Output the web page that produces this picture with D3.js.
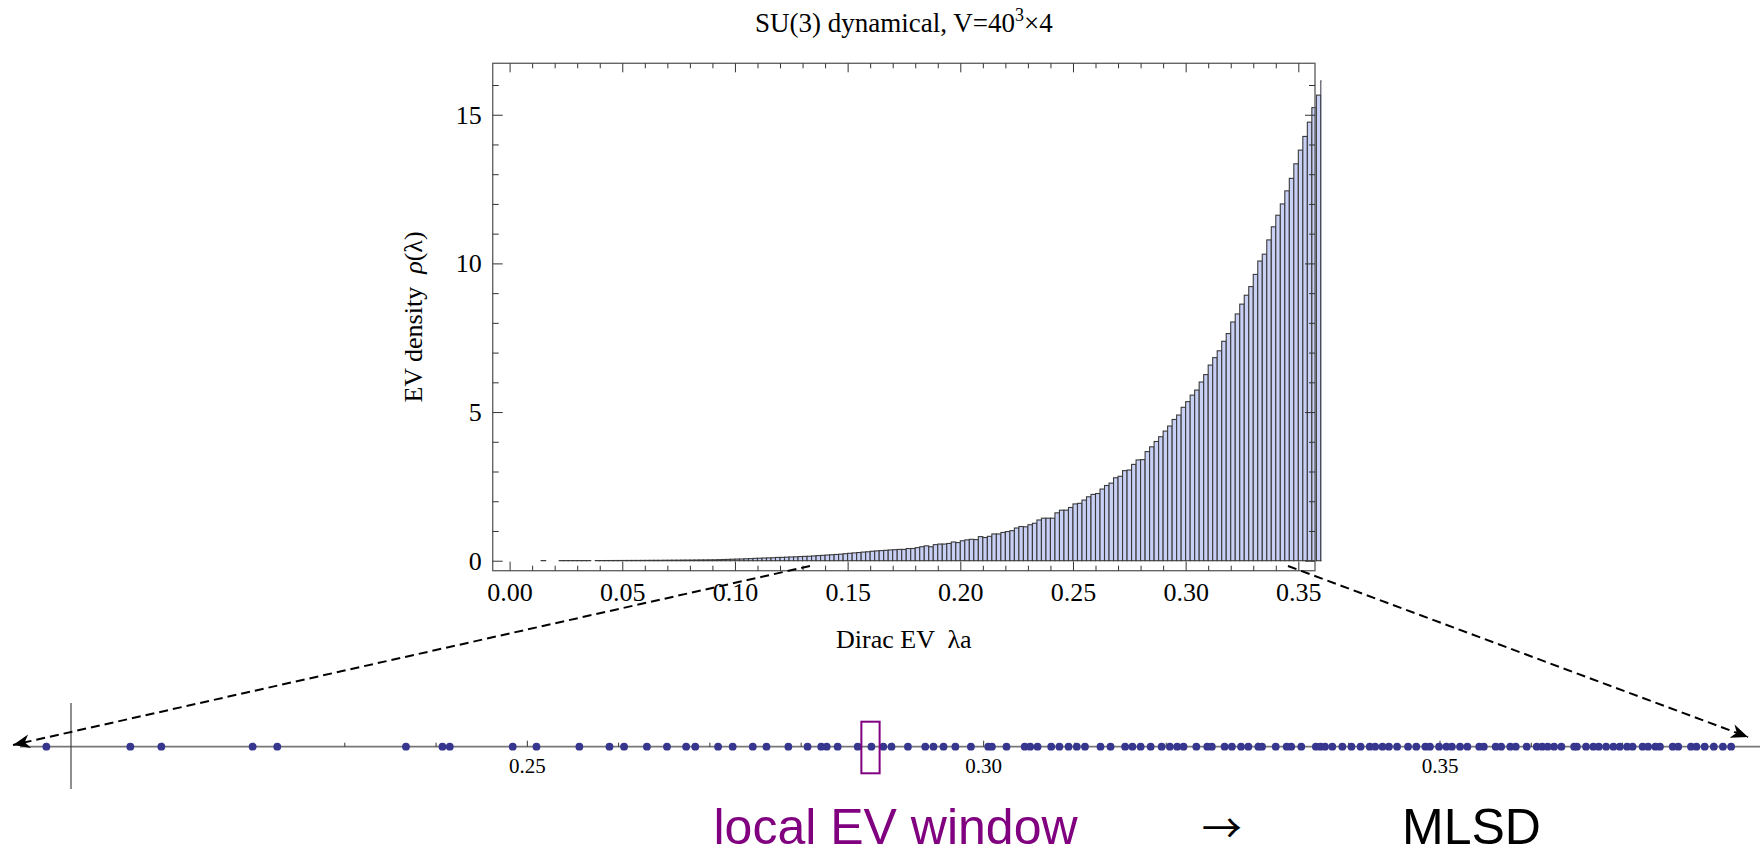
<!DOCTYPE html>
<html>
<head>
<meta charset="utf-8">
<script src="https://cdn.jsdelivr.net/npm/d3@7"></script>
<style>
  body { margin: 0; background: #fff; }
  svg { display: block; font-family: "Liberation Serif", "Times New Roman", serif; }
</style>
</head>
<body>
<div id="chart"></div>
<script>
const width = 1760, height = 855;

// histogram of the Dirac EV density, bins of 0.002 starting at lambda*a = 0
const binWidth = 0.002;
const rho = [
    0, 0, 0, 0, 0, 0, 0, 0.004, 0, 0,
    0, 0.004, 0.004, 0.004, 0.004, 0.004, 0.004, 0.004, 0, 0.005,
    0.005, 0.006, 0.006, 0.007, 0.007, 0.008, 0.008, 0.009, 0.009, 0.010,
    0.011, 0.012, 0.013, 0.013, 0.015, 0.016, 0.017, 0.018, 0.020, 0.021,
    0.022, 0.024, 0.026, 0.027, 0.029, 0.030, 0.035, 0.040, 0.044, 0.050,
    0.055, 0.058, 0.065, 0.070, 0.080, 0.083, 0.090, 0.095, 0.100, 0.110,
    0.112, 0.120, 0.126, 0.130, 0.140, 0.146, 0.150, 0.160, 0.172, 0.180,
    0.190, 0.200, 0.210, 0.220, 0.236, 0.250, 0.262, 0.275, 0.290, 0.300,
    0.318, 0.330, 0.340, 0.350, 0.362, 0.370, 0.380, 0.380, 0.410, 0.410,
    0.440, 0.470, 0.500, 0.470, 0.540, 0.560, 0.560, 0.580, 0.630, 0.610,
    0.670, 0.700, 0.720, 0.710, 0.810, 0.780, 0.820, 0.900, 0.900, 0.950,
    0.980, 1.010, 1.100, 1.150, 1.140, 1.210, 1.260, 1.370, 1.430, 1.430,
    1.430, 1.610, 1.700, 1.700, 1.790, 1.910, 1.930, 2.040, 2.150, 2.230,
    2.260, 2.410, 2.530, 2.610, 2.790, 2.840, 3.030, 3.050, 3.240, 3.390,
    3.400, 3.670, 3.830, 4.010, 4.170, 4.360, 4.530, 4.750, 4.900, 5.160,
    5.350, 5.570, 5.740, 6.010, 6.260, 6.580, 6.830, 7.060, 7.380, 7.640,
    8.030, 8.300, 8.630, 8.930, 9.220, 9.630, 10.08, 10.31, 10.79, 11.23,
    11.62, 12.00, 12.44, 12.86, 13.35, 13.81, 14.27, 14.75, 15.24, 15.66,
    16.14
];

// individual eigenvalues on the number line below
const evs = [
    0.1973, 0.2065, 0.2099, 0.2199, 0.2226, 0.2367, 0.2407, 0.2415, 0.2484, 0.2510,
    0.2557, 0.2590, 0.2606, 0.2631, 0.2653, 0.2674, 0.2684, 0.2709, 0.2725, 0.2747,
    0.2762, 0.2786, 0.2807, 0.2822, 0.2828, 0.2840, 0.2862, 0.2877, 0.2890, 0.2899,
    0.2917, 0.2936, 0.2945, 0.2956, 0.2969, 0.2986, 0.3005, 0.3009, 0.3025, 0.3045,
    0.3051, 0.3059, 0.3074, 0.3083, 0.3093, 0.3102, 0.3111, 0.3128, 0.3139, 0.3155,
    0.3163, 0.3172, 0.3183, 0.3195, 0.3204, 0.3212, 0.3219, 0.3233, 0.3245, 0.3250,
    0.3264, 0.3272, 0.3282, 0.3290, 0.3301, 0.3305, 0.3320, 0.3332, 0.3337, 0.3348,
    0.3364, 0.3369, 0.3374, 0.3382, 0.3393, 0.3403, 0.3413, 0.3423, 0.3429, 0.3437,
    0.3444, 0.3453, 0.3465, 0.3474, 0.3484, 0.3489, 0.3499, 0.3507, 0.3513, 0.3522,
    0.3530, 0.3543, 0.3548, 0.3561, 0.3567, 0.3577, 0.3583, 0.3595, 0.3606, 0.3612,
    0.3618, 0.3625, 0.3633, 0.3647, 0.3650, 0.3660, 0.3668, 0.3674, 0.3682, 0.3690,
    0.3697, 0.3705, 0.3711, 0.3722, 0.3728, 0.3736, 0.3741, 0.3755, 0.3761, 0.3775,
    0.3781, 0.3790, 0.3800, 0.3810, 0.3819
];

const histXTicks = [0, 0.05, 0.10, 0.15, 0.20, 0.25, 0.30, 0.35];
const histYTicks = [0, 5, 10, 15];
const lineTicks = [0.25, 0.30, 0.35];
const windowRange = [0.2866, 0.2886];

const serif = '"Liberation Serif", "Times New Roman", serif';
const sans = '"Liberation Sans", Arial, Helvetica, sans-serif';

const svg = d3.select("#chart")
    .append("svg")
    .attr("width", width)
    .attr("height", height);

// ---------- histogram ----------
let x = d3.scaleLinear().domain([-0.0075, 0.3574]).range([492.7, 1315]);
let y = d3.scaleLinear().domain([-0.336, 16.73]).range([570.7, 63.3]);

// bars stop at 0.36, the next one only shows its left edge
svg.append("clipPath").attr("id", "barclip")
    .append("rect")
    .attr("x", 0).attr("y", 0)
    .attr("width", x(0.36) + 0.7).attr("height", height);

let bins = rho.map((v, i) => ({ x0: i * binWidth, v: v })).filter(d => d.v > 0);

svg.append("g")
    .attr("clip-path", "url(#barclip)")
    .selectAll("rect")
    .data(bins)
    .enter()
    .append("rect")
    .attr("x", d => x(d.x0))
    .attr("y", d => y(d.v))
    .attr("width", d => x(d.x0 + binWidth) - x(d.x0))
    .attr("height", d => y(0) - y(d.v))
    .attr("fill", "#c8d0f6")
    .attr("stroke", "#3a3a3a")
    .attr("stroke-width", 1.1);

// frame
svg.append("rect")
    .attr("x", x.range()[0]).attr("y", y.range()[1])
    .attr("width", x.range()[1] - x.range()[0])
    .attr("height", y.range()[0] - y.range()[1])
    .attr("fill", "none")
    .attr("stroke", "#666")
    .attr("stroke-width", 1.4);

let xMinor = d3.range(0, 36).map(i => i / 100).filter(v => !histXTicks.some(t => Math.abs(t - v) < 1e-9));
let yMinor = d3.range(0, 17).filter(v => v % 5 !== 0);

function frameAxis(axis, tx, ty, labels) {
    let g = svg.append("g").attr("transform", `translate(${tx}, ${ty})`).call(axis);
    g.select(".domain").remove();
    g.selectAll("line").attr("stroke", "#333").attr("stroke-width", 1);
    if (labels) {
        g.selectAll("text").attr("fill", "#000").attr("font-size", 26).style("font-family", serif);
    } else {
        g.selectAll("text").remove();
    }
    return g;
}

// bottom
frameAxis(d3.axisBottom(x).tickValues(histXTicks).tickSize(-9).tickPadding(12)
    .tickFormat(d3.format(".2f")), 0, y.range()[0], true);
frameAxis(d3.axisBottom(x).tickValues(xMinor).tickSize(-5), 0, y.range()[0], false);
// top
frameAxis(d3.axisTop(x).tickValues(histXTicks).tickSize(-9), 0, y.range()[1], false);
frameAxis(d3.axisTop(x).tickValues(xMinor).tickSize(-5), 0, y.range()[1], false);
// left
frameAxis(d3.axisLeft(y).tickValues(histYTicks).tickSize(-10).tickPadding(11), x.range()[0], 0, true);
frameAxis(d3.axisLeft(y).tickValues(yMinor).tickSize(-6), x.range()[0], 0, false);
// right
frameAxis(d3.axisRight(y).tickValues(histYTicks).tickSize(-10), x.range()[1], 0, false);
frameAxis(d3.axisRight(y).tickValues(yMinor).tickSize(-6), x.range()[1], 0, false);

// title
let title = svg.append("text")
    .attr("x", (x.range()[0] + x.range()[1]) / 2)
    .attr("y", 31.7)
    .attr("text-anchor", "middle")
    .attr("font-size", 27);
title.append("tspan").text("SU(3) dynamical, V=40");
title.append("tspan").attr("font-size", 18).attr("dy", -11).text("3");
title.append("tspan").attr("dy", 11).text("×4");

// y label
let yl = svg.append("text")
    .attr("transform", `translate(421.7, ${(y.range()[0] + y.range()[1]) / 2}) rotate(-90)`)
    .attr("text-anchor", "middle")
    .attr("font-size", 26)
    .style("white-space", "pre");
yl.append("tspan").text("EV density  ");
yl.append("tspan").attr("font-style", "italic").text("ρ");
yl.append("tspan").text("(λ)");

// x label
svg.append("text")
    .attr("x", (x.range()[0] + x.range()[1]) / 2)
    .attr("y", 648.3)
    .attr("text-anchor", "middle")
    .attr("font-size", 26)
    .style("white-space", "pre")
    .text("Dirac EV  λa");

// ---------- number line ----------
let nx = d3.scaleLinear().domain([0.20, 0.35]).range([71, 1440]);
const lineY = 746.7;

svg.append("line")
    .attr("x1", 20).attr("x2", width)
    .attr("y1", lineY).attr("y2", lineY)
    .attr("stroke", "#777").attr("stroke-width", 1.8);

svg.append("line")
    .attr("x1", nx(0.20)).attr("x2", nx(0.20))
    .attr("y1", 703).attr("y2", 789)
    .attr("stroke", "#444").attr("stroke-width", 1.2);

let lineMinor = d3.range(21, 39).map(i => i / 100).filter(v => !lineTicks.some(t => Math.abs(t - v) < 1e-9));

svg.append("g").selectAll("line")
    .data(lineMinor)
    .enter()
    .append("line")
    .attr("x1", d => nx(d)).attr("x2", d => nx(d))
    .attr("y1", lineY).attr("y2", lineY - 4)
    .attr("stroke", "#333").attr("stroke-width", 1);

svg.append("g").selectAll("line")
    .data(lineTicks)
    .enter()
    .append("line")
    .attr("x1", d => nx(d)).attr("x2", d => nx(d))
    .attr("y1", lineY).attr("y2", lineY - 6)
    .attr("stroke", "#333").attr("stroke-width", 1);

svg.append("g").selectAll("text")
    .data(lineTicks)
    .enter()
    .append("text")
    .attr("x", d => nx(d))
    .attr("y", 773)
    .attr("text-anchor", "middle")
    .attr("font-size", 21)
    .text(d => d3.format(".2f")(d));

svg.append("g").selectAll("circle")
    .data(evs)
    .enter()
    .append("circle")
    .attr("cx", d => nx(d))
    .attr("cy", lineY)
    .attr("r", 3.9)
    .attr("fill", "#36368f");

// local window box
svg.append("rect")
    .attr("x", nx(windowRange[0]))
    .attr("y", 721.7)
    .attr("width", nx(windowRange[1]) - nx(windowRange[0]))
    .attr("height", 51.6)
    .attr("fill", "none")
    .attr("stroke", "#800080")
    .attr("stroke-width", 2);

// ---------- dashed zoom arrows ----------
svg.append("defs").append("marker")
    .attr("id", "head")
    .attr("markerUnits", "userSpaceOnUse")
    .attr("viewBox", "-18 -8 19 16")
    .attr("refX", 0).attr("refY", 0)
    .attr("markerWidth", 19).attr("markerHeight", 16)
    .attr("orient", "auto")
    .append("path")
    .attr("d", "M0,0 L-17,-7 L-12,0 L-17,7 Z")
    .attr("fill", "#000");

let arrows = [
    [[810, 566], [13, 745]],
    [[1288, 566], [1748, 737]]
];
svg.append("g").selectAll("path")
    .data(arrows)
    .enter()
    .append("path")
    .attr("d", d => d3.line()(d))
    .attr("fill", "none")
    .attr("stroke", "#000")
    .attr("stroke-width", 2)
    .attr("stroke-dasharray", "9,5")
    .attr("marker-end", "url(#head)");

// ---------- caption ----------
svg.append("text")
    .attr("x", 713.5).attr("y", 844)
    .style("font-family", sans)
    .attr("font-size", 50)
    .attr("fill", "#800080")
    .text("local EV window");

svg.append("text")
    .attr("x", 1201.7).attr("y", 843)
    .style("font-family", '"Noto Sans CJK JP", "DejaVu Sans", sans-serif')
    .attr("font-size", 40)
    .attr("fill", "#000")
    .text("→");

svg.append("text")
    .attr("x", 1402).attr("y", 844)
    .style("font-family", sans)
    .attr("font-size", 50)
    .attr("fill", "#000")
    .text("MLSD");
</script>
</body>
</html>
